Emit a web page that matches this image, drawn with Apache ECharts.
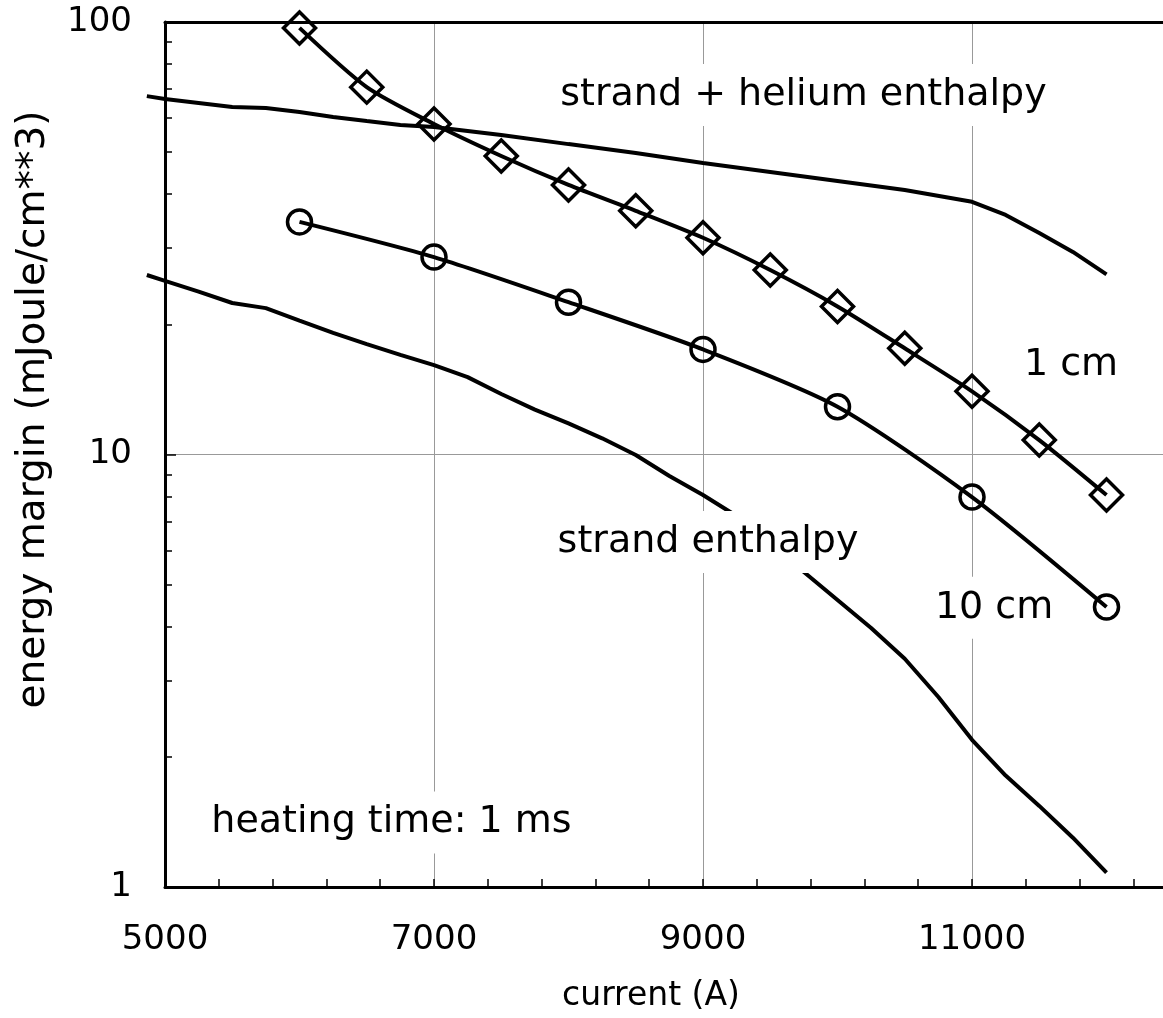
<!DOCTYPE html>
<html><head><meta charset="utf-8">
<script src="https://cdn.jsdelivr.net/npm/echarts@6/dist/echarts.min.js"></script>
<style>html,body{margin:0;padding:0;background:#fff}#c{width:1163px;height:1018px}</style>
</head><body><div id="c"></div>
<script>
// ---- data ----
const xLabelValues = [5000, 7000, 9000, 11000];
const xMinorTickValues = [5400, 5800, 6200, 6600, 7000, 7400, 7800, 8200, 8600, 9000, 9400, 9800, 10200, 10600, 11000, 11400, 11800, 12200];
const yLabelValues = [1, 10, 100];
const yMinorTickValues = [2, 3, 4, 5, 6, 7, 8, 9, 20, 30, 40, 50, 60, 70, 80, 90];

const oneCmX = [6000, 6500, 7000, 7500, 8000, 8500, 9000, 9500, 10000, 10500, 11000, 11500, 12000];
const oneCmY = [96.9, 70.7, 58.1, 49.0, 42.0, 36.6, 31.7, 26.7, 22.0, 17.6, 14.0, 10.8, 8.06];

const tenCmX = [6000, 7000, 8000, 9000, 10000, 11000, 12000];
const tenCmY = [34.5, 28.6, 22.5, 17.5, 12.9, 7.97, 4.44];

const heliumX = [4865, 5000, 5500, 5750, 6000, 6250, 6500, 6750, 7000, 7500, 8000, 8500, 9000, 9500, 10000, 10500, 11000, 11250, 11500, 11750, 12000];
const heliumY = [67.4, 66.4, 63.6, 63.3, 61.9, 60.3, 59.0, 57.8, 57.2, 54.8, 52.2, 49.8, 47.2, 45.0, 42.9, 40.9, 38.4, 35.8, 32.5, 29.4, 26.1];

const strandX = [4865, 5000, 5250, 5500, 5750, 6000, 6250, 6500, 6750, 7000, 7250, 7500, 7750, 8000, 8250, 8500, 8750, 9000, 9250, 9500, 9750, 10000, 10250, 10500, 10750, 11000, 11250, 11500, 11750, 12000];
const strandY = [26.0, 25.2, 23.8, 22.4, 21.8, 20.4, 19.1, 18.0, 17.0, 16.1, 15.1, 13.8, 12.7, 11.8, 10.9, 9.97, 8.92, 8.06, 7.21, 6.21, 5.35, 4.61, 3.97, 3.37, 2.75, 2.19, 1.81, 1.54, 1.30, 1.08];

const annotationTexts = ['strand + helium enthalpy', '1 cm', 'strand enthalpy', '10 cm', 'heating time: 1 ms'];
const annotationX = [9747, 11736, 9037, 11164, 6684];
const annotationY = [67.8, 16.1, 6.28, 4.42, 1.41];

const xTitle = 'current (A)';
const yTitle = 'energy margin (mJoule/cm**3)';

// ---- layout / style ----
const FONT = 'DejaVu Sans';
const W = 1163;
const GRID_LEFT = 165, GRID_TOP = 22, GRID_BOTTOM = 131;
const X_MIN = 5000, X_MAX = 12420;
// a second, invisible grid with the same scale but a lower minimum, so the
// curves that start left of the axis can be drawn there
const X_MIN_EXT = 4800;
const GRID_LEFT_EXT = GRID_LEFT - (X_MIN - X_MIN_EXT) * (W - GRID_LEFT) / (X_MAX - X_MIN);

const zip = (xs, ys) => xs.map((x, i) => [x, ys[i]]);
const chart = echarts.init(document.getElementById('c'), null, {renderer: 'canvas'});

const lineBase = {type: 'line', clip: false, animation: false, lineStyle: {color: '#000', width: 4}};
const hiddenAxis = {axisLine: {show: false}, axisTick: {show: false}, axisLabel: {show: false}, splitLine: {show: false}};
const hollowMarker = {color: 'rgba(255,255,255,0)', borderColor: '#000', borderWidth: 3.5};

chart.setOption({
  animation: false,
  backgroundColor: '#fff',
  grid: [
    {left: GRID_LEFT, right: 0, top: GRID_TOP, bottom: GRID_BOTTOM},
    {left: GRID_LEFT_EXT, right: 0, top: GRID_TOP, bottom: GRID_BOTTOM}
  ],
  xAxis: [
    {type: 'value', gridIndex: 0, position: 'bottom', min: X_MIN, max: X_MAX,
      axisLine: {lineStyle: {color: '#000', width: 3}},
      axisTick: {show: false, customValues: xLabelValues},
      axisLabel: {customValues: xLabelValues, formatter: v => String(v), margin: 36, fontSize: 34, color: '#000', fontFamily: FONT},
      splitLine: {show: true, lineStyle: {color: '#999', width: 1}},
      name: xTitle, nameLocation: 'middle', nameGap: 93,
      nameTextStyle: {fontSize: 33, color: '#000', fontFamily: FONT, padding: [0, 26, 0, 0]}},
    {type: 'value', gridIndex: 0, position: 'bottom', min: X_MIN, max: X_MAX,
      axisLine: {show: false},
      axisTick: {show: true, inside: true, length: 8, customValues: xMinorTickValues, lineStyle: {color: '#000', width: 1.5}},
      axisLabel: {show: false}, splitLine: {show: false}},
    {type: 'value', gridIndex: 0, position: 'top', min: X_MIN, max: X_MAX,
      axisLine: {lineStyle: {color: '#000', width: 3}},
      axisTick: {show: false}, axisLabel: {show: false}, splitLine: {show: false}},
    Object.assign({type: 'value', gridIndex: 1, position: 'bottom', min: X_MIN_EXT, max: X_MAX}, hiddenAxis)
  ],
  yAxis: [
    {type: 'log', logBase: 10, gridIndex: 0, position: 'left', min: 1, max: 100,
      axisLine: {lineStyle: {color: '#000', width: 3}},
      axisTick: {show: true, inside: true, length: 11, customValues: yLabelValues, lineStyle: {color: '#000', width: 1.5}},
      axisLabel: {customValues: yLabelValues, margin: 33, fontSize: 34, color: '#000', fontFamily: FONT},
      splitLine: {show: true, lineStyle: {color: '#999', width: 1}},
      name: yTitle, nameLocation: 'middle', nameGap: 112, nameRotate: 90,
      nameTextStyle: {fontSize: 39, color: '#000', fontFamily: FONT, padding: [0, 0, 0, 90]}},
    {type: 'log', logBase: 10, gridIndex: 0, position: 'left', min: 1, max: 100,
      axisLine: {show: false},
      axisTick: {show: true, inside: true, length: 7, customValues: yMinorTickValues, lineStyle: {color: '#000', width: 1.5}},
      axisLabel: {show: false}, splitLine: {show: false}},
    Object.assign({type: 'log', logBase: 10, gridIndex: 1, position: 'left', min: 1, max: 100}, hiddenAxis)
  ],
  series: [
    Object.assign({}, lineBase, {name: 'strand + helium enthalpy', xAxisIndex: 3, yAxisIndex: 2,
      data: zip(heliumX, heliumY), symbol: 'none', z: 2}),
    Object.assign({}, lineBase, {name: 'strand enthalpy', xAxisIndex: 3, yAxisIndex: 2,
      data: zip(strandX, strandY), symbol: 'none', z: 2}),
    Object.assign({}, lineBase, {name: '1 cm', xAxisIndex: 0, yAxisIndex: 0, smooth: 0.25,
      data: zip(oneCmX, oneCmY), symbol: 'diamond', symbolSize: 32, z: 3, itemStyle: hollowMarker}),
    Object.assign({}, lineBase, {name: '10 cm', xAxisIndex: 0, yAxisIndex: 0, smooth: 0.25,
      data: zip(tenCmX, tenCmY), symbol: 'circle', symbolSize: 24, z: 3, itemStyle: hollowMarker}),
    {type: 'scatter', name: 'annotations', xAxisIndex: 0, yAxisIndex: 0, z: 10, symbolSize: 1, silent: true,
      itemStyle: {opacity: 1, color: 'rgba(255,255,255,0)'},
      data: annotationTexts.map((t, i) => ({name: t, value: [annotationX[i], annotationY[i]]})),
      label: {show: true, position: 'inside', formatter: p => p.name, fontSize: 38, color: '#000', fontFamily: FONT,
        backgroundColor: '#fff', padding: [12, 6]}}
  ]
});
</script></body></html>
